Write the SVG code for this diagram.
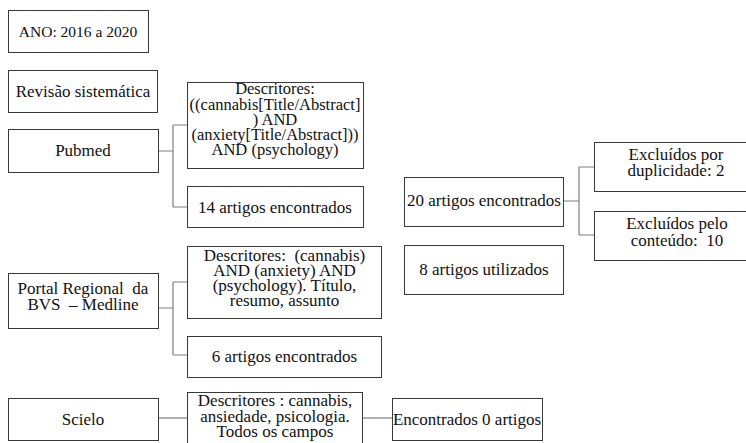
<svg xmlns="http://www.w3.org/2000/svg" width="746" height="443" viewBox="0 0 746 443" font-family="Liberation Serif, DejaVu Serif, serif">
<style>
.b{fill:#fff;stroke:#3a3a3a;stroke-width:1}
.c{fill:none;stroke:#7f7f7f;stroke-width:1.2}
text{font-size:17px;fill:#111;text-anchor:middle;white-space:pre}
.m{font-size:16.5px}
</style>
<rect width="746" height="443" fill="#fff"/>
<g id="connectors">
<path class="c" d="M158,151H173M173,125V207M173,125H187M173,207H187"/>
<path class="c" d="M158,308H173M173,282V355M173,282H187M173,355H187"/>
<path class="c" d="M158,418H187"/>
<path class="c" d="M362,418H392"/>
<path class="c" d="M563,201H579M579,167V235M579,167H594M579,235H594"/>
</g>
<g id="ano"><rect class="b" x="8.5" y="10.5" width="140" height="42"/><text x="78" y="37" style="font-size:15.5px">ANO: 2016 a 2020</text></g>
<g id="revisao"><rect class="b" x="8.5" y="70.5" width="149" height="42"/><text x="83" y="97">Revisão sistemática</text></g>
<g id="pubmed"><rect class="b" x="8.5" y="129.5" width="150" height="43"/><text x="83" y="156">Pubmed</text></g>
<g id="pubmed-desc" class="m"><rect class="b" x="187.5" y="82.5" width="176" height="86"/>
<text class="m" x="275" y="94">Descritores:</text>
<text class="m" x="275" y="110">((cannabis[Title/Abstract]</text>
<text class="m" x="275" y="125">) AND</text>
<text class="m" x="275" y="140">(anxiety[Title/Abstract]))</text>
<text class="m" x="275" y="155">AND (psychology)</text></g>
<g id="pubmed-found"><rect class="b" x="187.5" y="186.5" width="176" height="41"/><text x="275" y="213">14 artigos encontrados</text></g>
<g id="bvs"><rect class="b" x="8.5" y="273.5" width="150" height="55"/>
<text x="83" y="294" xml:space="preserve">Portal Regional  da</text>
<text x="83" y="310" xml:space="preserve">BVS  – Medline</text></g>
<g id="bvs-desc"><rect class="b" x="187.5" y="246.5" width="194" height="72"/>
<text x="284.5" y="261" xml:space="preserve">Descritores:  (cannabis)</text>
<text x="284.5" y="276">AND (anxiety) AND</text>
<text x="284.5" y="291">(psychology). Título,</text>
<text x="284.5" y="306">resumo, assunto</text></g>
<g id="bvs-found"><rect class="b" x="187.5" y="336.5" width="194" height="41"/><text x="284.5" y="362">6 artigos encontrados</text></g>
<g id="scielo"><rect class="b" x="8.5" y="398.5" width="150" height="42"/><text x="83" y="425">Scielo</text></g>
<g id="scielo-desc"><rect class="b" x="187.5" y="392.5" width="175" height="60"/>
<text x="275" y="406">Descritores : cannabis,</text>
<text x="275" y="422">ansiedade, psicologia.</text>
<text x="275" y="437">Todos os campos</text></g>
<g id="scielo-found"><rect class="b" x="392.5" y="398.5" width="150" height="42"/><text x="467" y="425">Encontrados 0 artigos</text></g>
<g id="total"><rect class="b" x="404.5" y="177.5" width="159" height="49"/><text x="484" y="206">20 artigos encontrados</text></g>
<g id="used"><rect class="b" x="404.5" y="245.5" width="159" height="49"/><text x="484" y="275">8 artigos utilizados</text></g>
<g id="dup"><rect class="b" x="594.5" y="142.5" width="170" height="49"/>
<text x="676" y="160">Excluídos por</text>
<text x="676" y="176">duplicidade: 2</text></g>
<g id="content"><rect class="b" x="594.5" y="211.5" width="170" height="49"/>
<text x="677" y="229">Excluídos pelo</text>
<text x="677" y="246" xml:space="preserve">conteúdo:  10</text></g>
</svg>
